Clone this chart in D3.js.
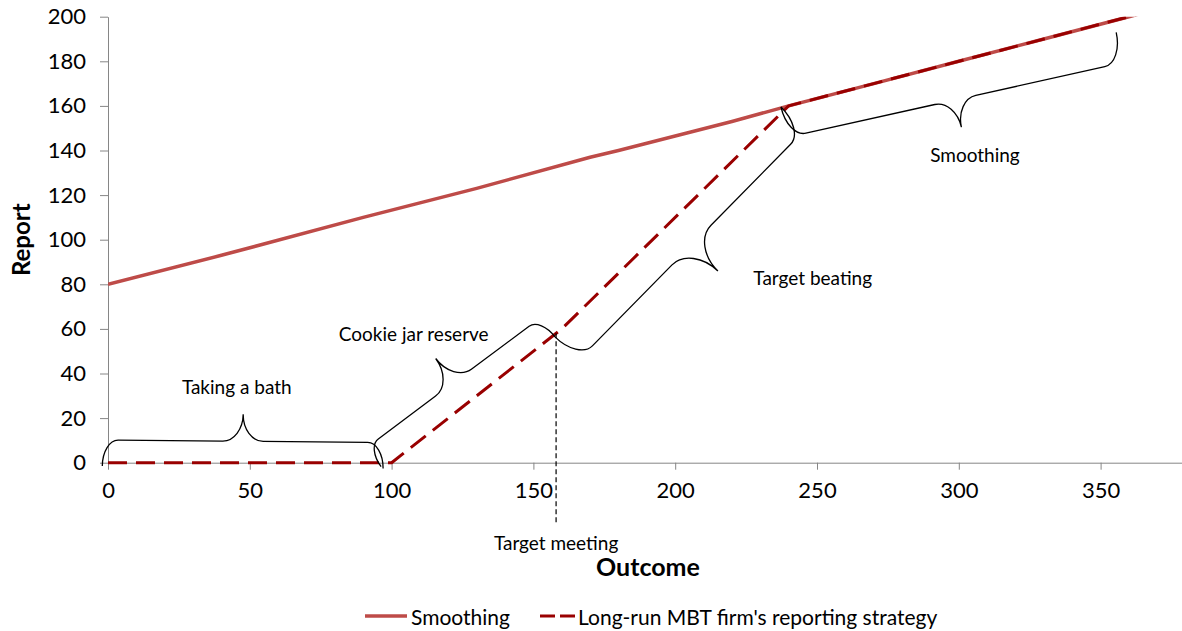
<!DOCTYPE html>
<html>
<head>
<meta charset="utf-8">
<script src="https://cdn.jsdelivr.net/npm/d3@7"></script>
<style>
  html, body { margin: 0; padding: 0; background: #fff; }
  svg { display: block; font-family: Lato, "Open Sans", sans-serif; }
</style>
</head>
<body>
<svg id="chart" width="1182" height="631"></svg>
<script>
// Smoothing: outcome (x) and reported value (y)
const smoothOutcome = [0, 40, 90, 130, 170, 180, 220, 240, 270, 300, 330, 360, 390];
const smoothReport  = [80, 93, 110, 123, 137, 140, 153, 160, 170, 180, 190, 200, 210];
// Long-run MBT firm's reporting strategy
const mbtOutcome = [0, 100, 160, 240, 270, 300, 330, 360, 390];
const mbtReport  = [0, 0, 60, 160, 170, 180, 190, 200, 210];

const xTicks = [0, 50, 100, 150, 200, 250, 300, 350];
const yTicks = [0, 20, 40, 60, 80, 100, 120, 140, 160, 180, 200];

const targetMeeting = 158;

// Curly-brace annotations (end points in data units)
const braceNames = ["Taking a bath", "Cookie jar reserve", "Target beating", "Smoothing"];
const braceStart = [[-2, -1.5], [96.3, -1.8], [157.6, 56.4], [237.3, 159.5]];
const braceEnd   = [[97, -2.6], [157.6, 56.4], [237.3, 159.5], [355.5, 193]];
const braceSide  = [1, 1, -1, -1];
const braceLabelAt = [[45.4, 34], [107.8, 58], [248.5, 83], [305.7, 138]];

const svg = d3.select("#chart");

const x = d3.scaleLinear().domain([0, 380]).range([108, 108 + 380 * 2.836]);
const y = d3.scaleLinear().domain([0, 200]).range([462.7, 16.7]);

const axisColor = "#868686";

// clip marks to the plot area
svg.append("defs").append("clipPath").attr("id", "plot")
  .append("rect").attr("x", x(0)).attr("y", y(200)).attr("width", 1182 - x(0)).attr("height", y(0) - y(200) + 10);

// Y axis
const gy = svg.append("g").attr("transform", `translate(${x(0)},0)`)
  .call(d3.axisLeft(y).tickValues(yTicks).tickSize(8).tickSizeOuter(0).tickPadding(14).tickFormat(d3.format("d")));
gy.select(".domain").attr("stroke", axisColor);
gy.selectAll(".tick line").attr("stroke", axisColor);
gy.selectAll(".tick text").attr("font-size", 22).attr("fill", "#000").attr("font-family", "Lato");

// X axis
const gx = svg.append("g").attr("transform", `translate(0,${y(0)})`)
  .call(d3.axisBottom(x).tickValues(xTicks).tickSize(7).tickSizeOuter(0).tickPadding(24).tickFormat(d3.format("d")));
gx.select(".domain").attr("stroke", axisColor);
gx.selectAll(".tick line").attr("stroke", axisColor);
gx.selectAll(".tick text").attr("font-size", 22).attr("fill", "#000").attr("font-family", "Lato").attr("dy", "0.2em");

// Series lines
const smoothData = smoothOutcome.map((o, i) => [o, smoothReport[i]]);
const mbtData = mbtOutcome.map((o, i) => [o, mbtReport[i]]);
const line = d3.line().x(d => x(d[0])).y(d => y(d[1]));

const marks = svg.append("g").attr("clip-path", "url(#plot)");
marks.append("path").datum(smoothData).attr("d", line)
  .attr("fill", "none").attr("stroke", "#BE4B48").attr("stroke-width", 3.5).attr("stroke-linejoin", "round");
marks.append("path").datum(mbtData).attr("d", line)
  .attr("fill", "none").attr("stroke", "#990000").attr("stroke-width", 3)
  .attr("stroke-dasharray", "19,9").attr("stroke-linejoin", "round");

// Target meeting marker
const tmY = d3.scaleLinear().domain(mbtOutcome).range(mbtReport)(targetMeeting);
svg.append("line")
  .attr("x1", x(targetMeeting)).attr("x2", x(targetMeeting))
  .attr("y1", y(tmY)).attr("y2", y(0) + 62)
  .attr("stroke", "#000").attr("stroke-width", 1.2).attr("stroke-dasharray", "5,3");
svg.append("text").attr("x", x(targetMeeting)).attr("y", y(0) + 80)
  .attr("text-anchor", "middle").attr("dominant-baseline", "central")
  .attr("font-size", 19).text("Target meeting");

// Curly brace path between two pixel points, bulging to one side
function bracePath(p1, p2, side, s, D) {
  const dx = p2[0] - p1[0], dy = p2[1] - p1[1];
  const L = Math.hypot(dx, dy);
  const ux = dx / L, uy = dy / L;
  const nx = side * uy, ny = -side * ux;
  const P = (u, v) => [p1[0] + ux * u + nx * v, p1[1] + uy * u + ny * v];
  const k = 0.552;
  const r1 = 0.6 * s, r2 = 0.75 * (D - s), m = L / 2;
  const pts = [
    ["M", P(0, 0)],
    ["C", P(0, k * s), P(r1 - k * r1, s), P(r1, s)],
    ["L", P(m - r2, s)],
    ["C", P(m - r2 + k * r2, s), P(m, D - k * (D - s)), P(m, D)],
    ["C", P(m, D - k * (D - s)), P(m + r2 - k * r2, s), P(m + r2, s)],
    ["L", P(L - r1, s)],
    ["C", P(L - r1 + k * r1, s), P(L, k * s), P(L, 0)]
  ];
  return pts.map(seg => seg[0] + seg.slice(1).map(p => p[0].toFixed(1) + "," + p[1].toFixed(1)).join(" ")).join(" ");
}

const braceDepth = [[26, 53], [24, 54], [33, 70], [31, 59]];
const braces = svg.append("g");
braceNames.forEach((name, i) => {
  const p1 = [x(braceStart[i][0]), y(braceStart[i][1])];
  const p2 = [x(braceEnd[i][0]), y(braceEnd[i][1])];
  braces.append("path")
    .attr("d", bracePath(p1, p2, braceSide[i], braceDepth[i][0], braceDepth[i][1]))
    .attr("fill", "none").attr("stroke", "#000").attr("stroke-width", 1.3);
  braces.append("text")
    .attr("x", x(braceLabelAt[i][0])).attr("y", y(braceLabelAt[i][1]))
    .attr("text-anchor", "middle").attr("dominant-baseline", "central")
    .attr("font-size", 19).text(name);
});

// Axis titles
svg.append("text").attr("transform", `translate(20,${(y(0) + y(200)) / 2}) rotate(-90)`)
  .attr("text-anchor", "middle").attr("dominant-baseline", "central")
  .attr("font-size", 24).attr("font-weight", "bold").text("Report");
svg.append("text").attr("x", 648).attr("y", 566)
  .attr("text-anchor", "middle").attr("dominant-baseline", "central")
  .attr("font-size", 25).attr("font-weight", "bold").text("Outcome");

// Legend
const legend = svg.append("g").attr("transform", "translate(0,616)");
legend.append("line").attr("x1", 365).attr("x2", 407).attr("y1", 0).attr("y2", 0)
  .attr("stroke", "#BE4B48").attr("stroke-width", 3.5);
legend.append("text").attr("x", 411).attr("y", 0).attr("dominant-baseline", "central")
  .attr("font-size", 21).text("Smoothing");
legend.append("line").attr("x1", 540).attr("x2", 575).attr("y1", 0).attr("y2", 0)
  .attr("stroke", "#990000").attr("stroke-width", 3).attr("stroke-dasharray", "15,5");
legend.append("text").attr("x", 578).attr("y", 0).attr("dominant-baseline", "central")
  .attr("font-size", 21).text("Long-run MBT firm's reporting strategy");
</script>
</body>
</html>
